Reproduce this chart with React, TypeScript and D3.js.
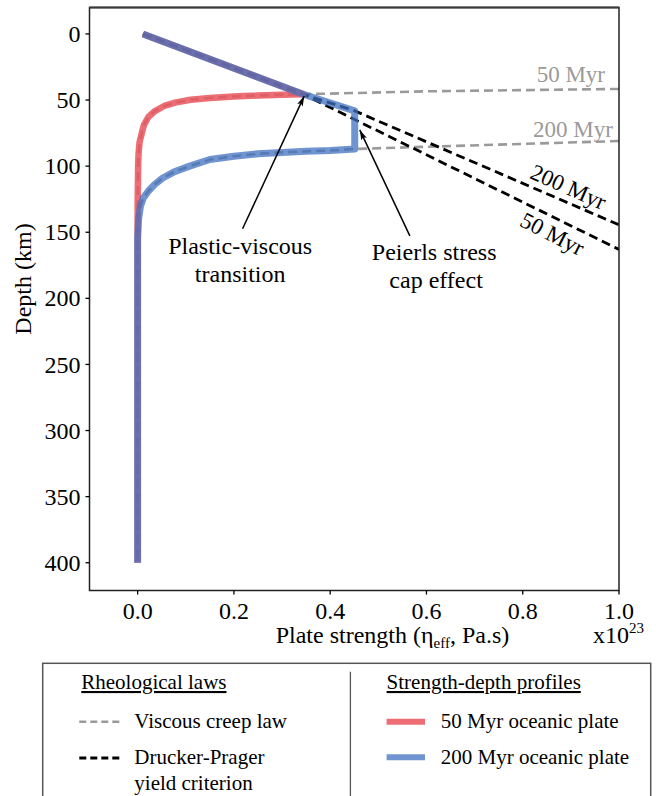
import React from "react";
import * as d3 from "d3";

// plate strength (x1e23 Pa.s) vs depth (km)
const profile50 = [
  [0.011, 0], [0.344, 45.6], [0.3, 46.0], [0.25, 46.6], [0.2, 47.3], [0.15, 48.4],
  [0.11, 49.8], [0.08, 51.8], [0.055, 54.5], [0.035, 58.5], [0.022, 63], [0.013, 69],
  [0.008, 76], [0.004, 82], [0.002, 90], [0.001, 100], [0, 130], [0, 400],
];
const profile200 = [
  [0.011, 0], [0.344, 45.6], [0.451, 58.2], [0.451, 87], [0.4, 88.2], [0.35, 88.8],
  [0.3, 89.6], [0.25, 90.6], [0.2, 92.5], [0.15, 95], [0.108, 100], [0.075, 104.5],
  [0.052, 109], [0.035, 114], [0.022, 119], [0.012, 124], [0.006, 130], [0.002, 140],
  [0, 155], [0, 400],
];
// viscous creep law beyond the transition
const creep50Ext = [[1.0, 41.6], [0.6, 43.4], [0.344, 45.6]];
const creep200Ext = [[1.0, 81], [0.451, 87]];
// Drucker-Prager yield criterion
const dp50 = [[0.011, 0], [0.344, 45.6], [1.0, 163]];
const dp200 = [[0.011, 0], [0.344, 45.6], [0.451, 58.2], [1.0, 144.4]];

const xTicks = [0, 0.2, 0.4, 0.6, 0.8, 1.0];
const yTicks = [0, 50, 100, 150, 200, 250, 300, 350, 400];

const RED = "#e9545a";
const BLUE = "#3f6fbf";
const GRAY = "#9a9a9a";
const FONT = "'Liberation Serif', 'Times New Roman', serif";

export default function App() {
  const x = d3.scaleLinear().domain([-0.1, 1.0]).range([89.5, 619]);
  const y = d3.scaleLinear().domain([-20, 421]).range([7.5, 590.5]);
  const line = d3
    .line<number[]>()
    .x((d) => x(d[0]))
    .y((d) => y(d[1]));

  const creep50 = [...creep50Ext, ...profile50.slice(2)];
  const creep200 = [...creep200Ext, ...profile200.slice(4)];

  const [x0, x1] = x.range();
  const [y0, y1] = y.range();

  return (
    <svg
      width={656}
      height={796}
      style={{ position: "absolute", left: 0, top: 0, fontFamily: FONT }}
    >
      <defs>
        <clipPath id="plot">
          <rect x={x0} y={y0} width={x1 - x0} height={y1 - y0} />
        </clipPath>
        <marker
          id="arrow"
          viewBox="0 0 10 6"
          refX={10}
          refY={3}
          markerWidth={11}
          markerHeight={6}
          markerUnits="userSpaceOnUse"
          orient="auto"
        >
          <path d="M0,0 L10,3 L0,6 L2,3 Z" fill="#000" />
        </marker>
      </defs>
      <rect width={656} height={796} fill="#fff" />

      <g clipPath="url(#plot)" fill="none">
        <path d={line(creep50) || ""} stroke={GRAY} strokeWidth={2.6} strokeDasharray="9 5" />
        <path d={line(creep200) || ""} stroke={GRAY} strokeWidth={2.6} strokeDasharray="9 5" />
        <path d={line(dp50) || ""} stroke="#000" strokeWidth={2.8} strokeDasharray="9 5" />
        <path d={line(dp200) || ""} stroke="#000" strokeWidth={2.8} strokeDasharray="9 5" />
        <path d={line(profile50) || ""} stroke={RED} strokeWidth={6.5} strokeOpacity={0.85} strokeLinejoin="round" />
        <path d={line(profile200) || ""} stroke={BLUE} strokeWidth={7} strokeOpacity={0.745} strokeLinejoin="round" />
      </g>

      {/* curve labels */}
      <g fontSize={23}>
        <text x={x(0.971)} y={y(36.1)} textAnchor="end" fill={GRAY}>50 Myr</text>
        <text x={x(0.9875)} y={y(77.7)} textAnchor="end" fill={GRAY}>200 Myr</text>
        <text
          transform={`translate(${x(0.895)},${y(115.5)}) rotate(24)`}
          textAnchor="middle"
          dy="0.35em"
          fill="#000"
        >
          200 Myr
        </text>
        <text
          transform={`translate(${x(0.862)},${y(151)}) rotate(27)`}
          textAnchor="middle"
          dy="0.35em"
          fill="#000"
        >
          50 Myr
        </text>
      </g>

      {/* annotations */}
      <g stroke="#000" strokeWidth={1.5}>
        <line x1={x(0.218)} y1={y(147.4)} x2={x(0.346)} y2={y(47)} markerEnd="url(#arrow)" />
        <line x1={x(0.5655)} y1={y(152.7)} x2={x(0.4615)} y2={y(72.6)} markerEnd="url(#arrow)" />
      </g>
      <g fontSize={24} textAnchor="middle" fill="#000">
        <text x={x(0.213)} y={y(166.4)}>Plastic-viscous</text>
        <text x={x(0.213)} y={y(187.5)}>transition</text>
        <text x={x(0.616)} y={y(170.9)}>Peierls stress</text>
        <text x={x(0.62)} y={y(192)}>cap effect</text>
      </g>

      {/* frame */}
      <rect x={x0} y={y0} width={x1 - x0} height={y1 - y0} fill="none" stroke="#222" strokeWidth={1.5} />
      <line x1={x0} x2={x1} y1={y0} y2={y0} stroke="#3a3a3a" strokeWidth={2.2} />

      {/* axes */}
      <g fontSize={24} fill="#000">
        {xTicks.map((t) => (
          <g key={"x" + t}>
            <line x1={x(t)} x2={x(t)} y1={y1} y2={y1 + 4} stroke="#000" strokeWidth={1.3} />
            <text x={x(t)} y={y1 + 28} textAnchor="middle">{d3.format(".1f")(t)}</text>
          </g>
        ))}
        {yTicks.map((t) => (
          <g key={"y" + t}>
            <line x1={x0 - 4} x2={x0} y1={y(t)} y2={y(t)} stroke="#000" strokeWidth={1.3} />
            <text x={x0 - 9} y={y(t)} dy="0.34em" textAnchor="end">{t}</text>
          </g>
        ))}
        <text transform="translate(31,279) rotate(-90)" textAnchor="middle">Depth (km)</text>
        <text x={392.5} y={643} textAnchor="middle">
          Plate strength (η<tspan fontSize={15} dy={5}>eff</tspan>
          <tspan dy={-5}>, Pa.s)</tspan>
        </text>
        <text x={593} y={643}>
          x10<tspan fontSize={15} dy={-10}>23</tspan>
        </text>
      </g>

      {/* legend */}
      <g fontSize={21} fill="#000">
        <rect x={42.7} y={663.3} width={608} height={200} fill="none" stroke="#555" strokeWidth={1.5} />
        <line x1={350.4} x2={350.4} y1={671.7} y2={800} stroke="#555" strokeWidth={1.3} />
        <text x={81.3} y={689} textDecoration="underline">Rheological laws</text>
        <line x1={79.3} x2={122.5} y1={721.7} y2={721.7} stroke={GRAY} strokeWidth={2.5} strokeDasharray="7 4" />
        <text x={134.3} y={728}>Viscous creep law</text>
        <line x1={79.3} x2={122.5} y1={758} y2={758} stroke="#000" strokeWidth={2.8} strokeDasharray="7 4" />
        <text x={134.3} y={764}>Drucker-Prager</text>
        <text x={134.3} y={790}>yield criterion</text>

        <text x={386.6} y={689} textDecoration="underline">Strength-depth profiles</text>
        <line x1={386.6} x2={425} y1={721.7} y2={721.7} stroke={RED} strokeWidth={6} strokeOpacity={0.85} />
        <text x={440.8} y={728}>50 Myr oceanic plate</text>
        <line x1={386.6} x2={425} y1={757.3} y2={757.3} stroke={BLUE} strokeWidth={6} strokeOpacity={0.745} />
        <text x={440.8} y={764}>200 Myr oceanic plate</text>
      </g>
    </svg>
  );
}
